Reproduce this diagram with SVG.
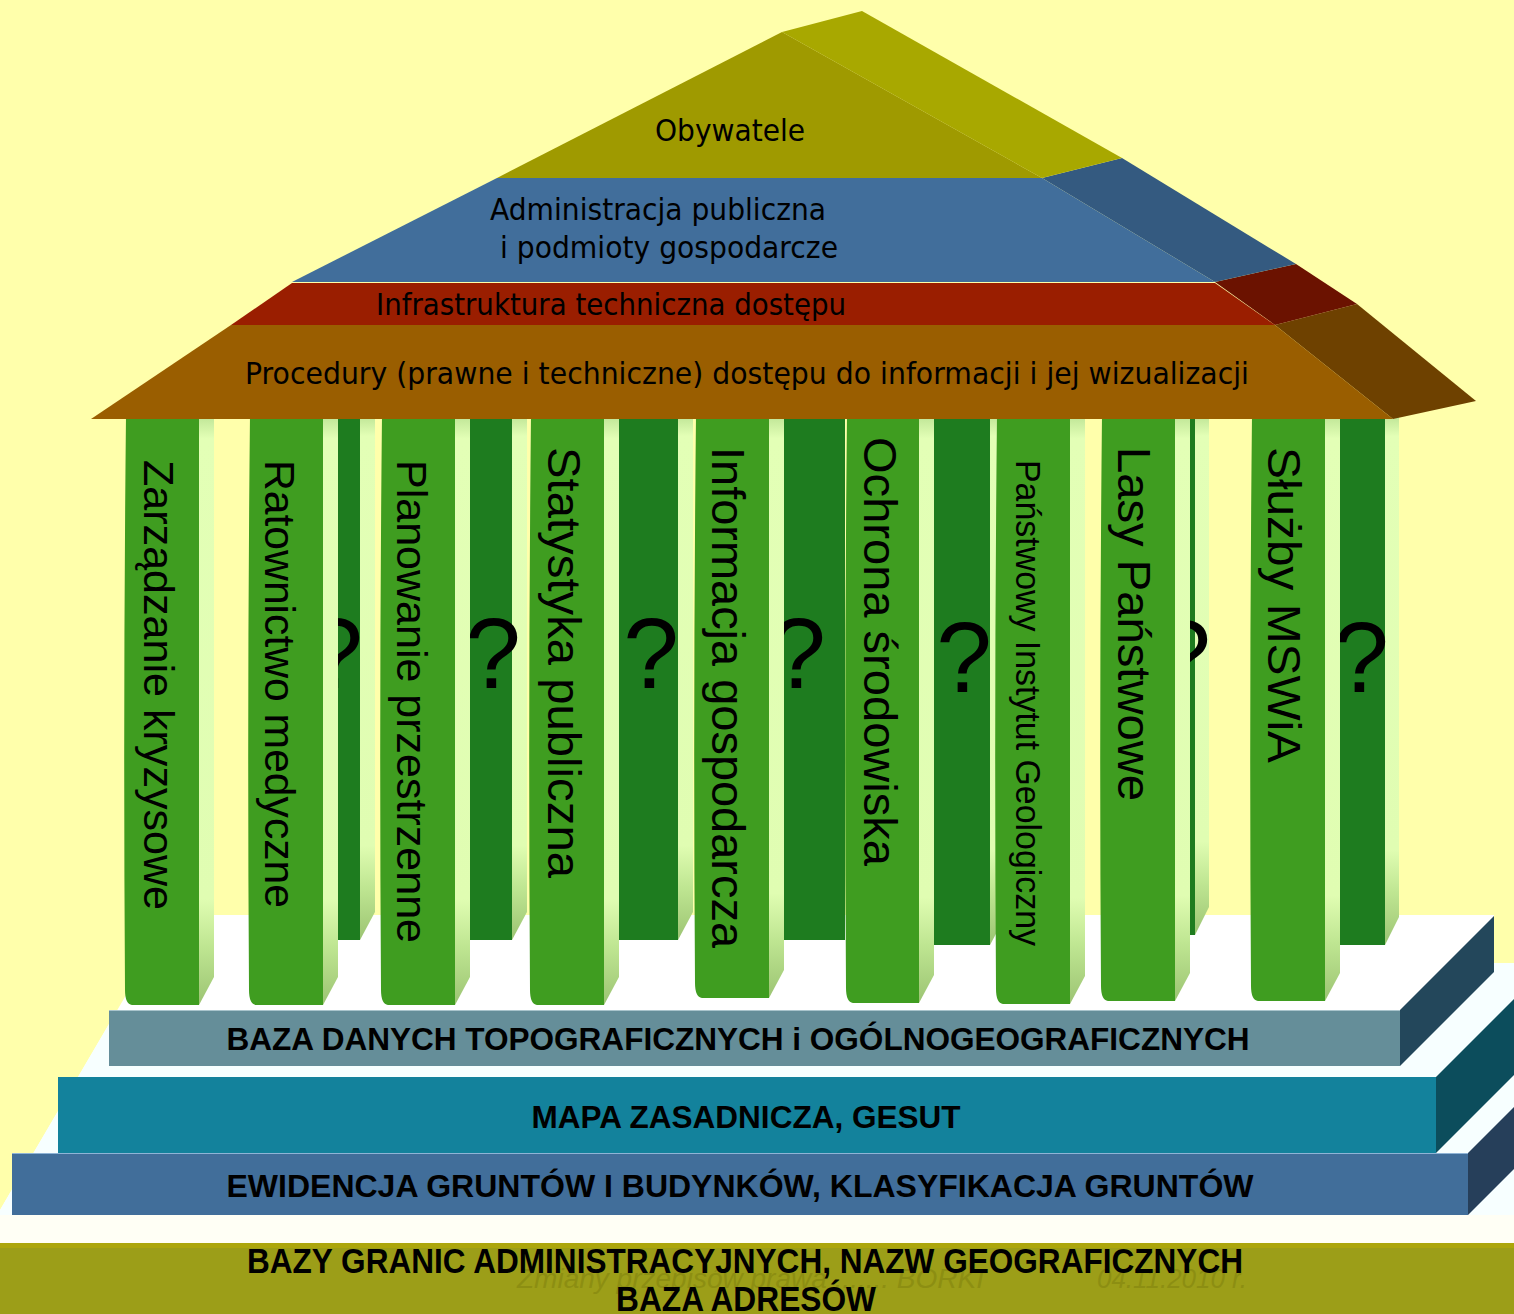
<svg xmlns="http://www.w3.org/2000/svg" width="1514" height="1314" viewBox="0 0 1514 1314">
<defs>
<linearGradient id="side" x1="0" y1="0" x2="0" y2="1">
<stop offset="0" stop-color="#BDE495"/>
<stop offset="0.04" stop-color="#E3FFB6"/>
<stop offset="0.82" stop-color="#E0FDB2"/>
<stop offset="0.9" stop-color="#BFE692"/>
<stop offset="1" stop-color="#9CC473"/>
</linearGradient>
<style>
.bg{fill:#FFFFAB}
.front{fill:#3F9D20}
.dark{fill:#1E7C1F}
.side{fill:url(#side)}
.ct{font-family:"Liberation Sans",Arial,sans-serif;fill:#000}
.q{font-family:"Liberation Sans",Arial,sans-serif;font-size:100px;fill:#000;text-anchor:middle}
.roof{font-family:"DejaVu Sans","Liberation Sans",sans-serif;font-size:30px;fill:#000}
.step{font-family:"Liberation Sans",Arial,sans-serif;font-weight:bold;font-size:31px;fill:#000}
.foot{font-family:"Liberation Sans",Arial,sans-serif;font-weight:bold;font-size:35px;fill:#000}
.faint{font-family:"Liberation Sans",Arial,sans-serif;font-style:italic;font-size:28px;fill:#8C8E12}
</style>
</defs>

<rect class="bg" x="0" y="0" width="1514" height="1314"/>
<polygon points="173,915 1494,915 1494,963 1514,963 1514,1243 0,1243 0,1210" fill="#FFFFFF"/>
<polygon points="1494,963 1514,963 1514,1243 0,1243 0,1210 109,1024 109,1066 1400,1066" fill="#F7FFFF"/>
<rect x="0" y="1215" width="1514" height="28" fill="#FFFFF5"/>

<g id="back-columns">
<g id="back-a">
<rect class="dark" x="290" y="415" width="70" height="525"/>
<polygon class="side" points="360,415 375,415 375,912 360,940"/>
<text class="q" x="335" y="688">?</text>
</g>
<g id="back-b">
<rect class="dark" x="430" y="415" width="82" height="525"/>
<polygon class="side" points="512,415 527,415 527,912 512,940"/>
<text class="q" x="493" y="688">?</text>
</g>
<g id="back-c">
<rect class="dark" x="590" y="415" width="88" height="525"/>
<polygon class="side" points="678,415 693,415 693,912 678,940"/>
<text class="q" x="651" y="688">?</text>
</g>
<g id="back-d">
<rect class="dark" x="750" y="415" width="95" height="525"/>
<text class="q" x="798" y="688">?</text>
</g>
<g id="back-e">
<rect class="dark" x="900" y="415" width="90" height="530"/>
<polygon class="side" points="990,415 1005,415 1005,917 990,945"/>
<text class="q" x="964" y="692">?</text>
</g>
<g id="back-f">
<rect class="dark" x="1150" y="415" width="45" height="520"/>
<polygon class="side" points="1195,415 1209,415 1209,907 1195,935"/>
<text class="q" x="1183" y="690">?</text>
</g>
<g id="back-g">
<rect class="dark" x="1300" y="415" width="85" height="530"/>
<polygon class="side" points="1385,415 1399,415 1399,917 1385,945"/>
<text class="q" x="1361" y="692">?</text>
</g>
</g>

<g id="front-columns">
<g id="col-1">
<path class="front" d="M126,415 L199,415 L199,1005 L132,1005 Q125,1004 125,990 Q123,700 126,415 Z"/>
<polygon class="side" points="199,415 214,415 214,977 199,1005"/>
<text class="ct" font-size="43" textLength="450" lengthAdjust="spacingAndGlyphs" transform="translate(144,460) rotate(90)">Zarządzanie kryzysowe</text>
</g>
<g id="col-2">
<path class="front" d="M250,415 L323,415 L323,1005 L256,1005 Q249,1004 249,990 Q247,700 250,415 Z"/>
<polygon class="side" points="323,415 338,415 338,977 323,1005"/>
<text class="ct" font-size="43" textLength="448" lengthAdjust="spacingAndGlyphs" transform="translate(265,460) rotate(90)">Ratownictwo medyczne</text>
</g>
<g id="col-3">
<path class="front" d="M382,415 L455,415 L455,1005 L388,1005 Q381,1004 381,990 Q379,700 382,415 Z"/>
<polygon class="side" points="455,415 470,415 470,977 455,1005"/>
<text class="ct" font-size="43" textLength="483" lengthAdjust="spacingAndGlyphs" transform="translate(397,460) rotate(90)">Planowanie przestrzenne</text>
</g>
<g id="col-4">
<path class="front" d="M531,415 L604,415 L604,1005 L537,1005 Q530,1004 530,990 Q528,700 531,415 Z"/>
<polygon class="side" points="604,415 619,415 619,977 604,1005"/>
<text class="ct" font-size="47" textLength="431" lengthAdjust="spacingAndGlyphs" transform="translate(548,447) rotate(90)">Statystyka publiczna</text>
</g>
<g id="col-5">
<path class="front" d="M696,415 L769,415 L769,998 L702,998 Q695,997 695,983 Q693,700 696,415 Z"/>
<polygon class="side" points="769,415 784,415 784,970 769,998"/>
<text class="ct" font-size="47" textLength="501" lengthAdjust="spacingAndGlyphs" transform="translate(712,447) rotate(90)">Informacja gospodarcza</text>
</g>
<g id="col-6">
<path class="front" d="M847,415 L919,415 L919,1003 L853,1003 Q846,1002 846,988 Q844,700 847,415 Z"/>
<polygon class="side" points="919,415 934,415 934,975 919,1003"/>
<text class="ct" font-size="47" textLength="429" lengthAdjust="spacingAndGlyphs" transform="translate(864,437) rotate(90)">Ochrona środowiska</text>
</g>
<g id="col-7">
<path class="front" d="M997,415 L1070,415 L1070,1004 L1003,1004 Q996,1003 996,989 Q994,700 997,415 Z"/>
<polygon class="side" points="1070,415 1085,415 1085,976 1070,1004"/>
<text class="ct" font-size="35" textLength="486" lengthAdjust="spacingAndGlyphs" transform="translate(1016,460) rotate(90)">Państwowy Instytut Geologiczny</text>
</g>
<g id="col-8">
<path class="front" d="M1102,415 L1175,415 L1175,1001 L1108,1001 Q1101,1000 1101,986 Q1099,700 1102,415 Z"/>
<polygon class="side" points="1175,415 1190,415 1190,973 1175,1001"/>
<text class="ct" font-size="47" textLength="354" lengthAdjust="spacingAndGlyphs" transform="translate(1118,447) rotate(90)">Lasy Państwowe</text>
</g>
<g id="col-9">
<path class="front" d="M1252,415 L1325,415 L1325,1001 L1258,1001 Q1251,1000 1251,986 Q1249,700 1252,415 Z"/>
<polygon class="side" points="1325,415 1340,415 1340,973 1325,1001"/>
<text class="ct" font-size="47" textLength="316" lengthAdjust="spacingAndGlyphs" transform="translate(1268,447) rotate(90)">Służby MSWiA</text>
</g>
</g>

<g id="step-1">
<polygon points="1400,1010 1494,916 1494,972 1400,1066" fill="#23475B"/>
<rect x="109" y="1010" width="1291" height="56" fill="#658E99"/>
<line x1="109" y1="1010.5" x2="1400" y2="1010.5" stroke="#A9C4CC" stroke-width="1"/>
<text class="step" x="738" y="1050" text-anchor="middle" textLength="1023" lengthAdjust="spacingAndGlyphs">BAZA DANYCH TOPOGRAFICZNYCH i OGÓLNOGEOGRAFICZNYCH</text>
</g>
<g id="step-2">
<polygon points="1436,1077 1514,999 1514,1075 1436,1153" fill="#0C4D5C"/>
<rect x="58" y="1077" width="1378" height="76" fill="#13829C"/>
<text class="step" x="746" y="1128" text-anchor="middle" textLength="429" lengthAdjust="spacingAndGlyphs">MAPA ZASADNICZA, GESUT</text>
</g>
<g id="step-3">
<polygon points="1468,1153 1514,1107 1514,1169 1468,1215" fill="#263F5A"/>
<rect x="12" y="1153" width="1456" height="62" fill="#416E9A"/>
<line x1="12" y1="1153.5" x2="1468" y2="1153.5" stroke="#8FB4D6" stroke-width="1"/>
<text class="step" x="740" y="1197" text-anchor="middle" textLength="1027" lengthAdjust="spacingAndGlyphs">EWIDENCJA GRUNTÓW I BUDYNKÓW, KLASYFIKACJA GRUNTÓW</text>
</g>

<g id="roof-procedury">
<polygon points="1275,325 1357,304 1476,401 1393,419" fill="#6E4100"/>
<polygon points="231,325 1275,325 1393,419 91,419" fill="#9A5E00"/>
<text class="roof" x="245" y="384" textLength="1004" lengthAdjust="spacingAndGlyphs">Procedury (prawne i techniczne) dostępu do informacji i jej wizualizacji</text>
</g>
<g id="roof-infrastruktura">
<polygon points="1215,282 1296,264 1357,304 1275,325" fill="#6B1200"/>
<polygon points="292,283 1215,283 1275,325 231,325" fill="#9A1E00"/>
<text class="roof" x="376" y="315" textLength="470" lengthAdjust="spacingAndGlyphs">Infrastruktura techniczna dostępu</text>
</g>
<g id="roof-administracja">
<polygon points="1042,178 1122,158 1296,264 1215,282" fill="#345A80"/>
<polygon points="497,178 1042,178 1215,282 292,282" fill="#416E9B"/>
<text class="roof" x="490" y="220" textLength="336" lengthAdjust="spacingAndGlyphs">Administracja publiczna</text>
<text class="roof" x="500" y="258" textLength="338" lengthAdjust="spacingAndGlyphs">i podmioty gospodarcze</text>
</g>
<g id="roof-obywatele">
<polygon points="782,32 862,11 1122,158 1042,178" fill="#A8A800"/>
<polygon points="782,32 1042,178 497,178" fill="#9F9A00"/>
<text class="roof" x="655" y="141" textLength="150" lengthAdjust="spacingAndGlyphs">Obywatele</text>
</g>

<g id="footer">
<rect x="0" y="1243" width="1514" height="71" fill="#9C9E18"/>
<rect x="0" y="1243" width="1514" height="5" fill="#ACA60B"/>
<text class="faint" x="517" y="1288" textLength="467" lengthAdjust="spacingAndGlyphs">Zmiany przepisów prawa ....... BORKI</text>
<text class="faint" x="1097" y="1288" textLength="150" lengthAdjust="spacingAndGlyphs">04.11.2010 r.</text>
<text class="foot" x="745" y="1273" text-anchor="middle" textLength="996" lengthAdjust="spacingAndGlyphs">BAZY GRANIC ADMINISTRACYJNYCH, NAZW GEOGRAFICZNYCH</text>
<text class="foot" x="746" y="1311" text-anchor="middle" textLength="260" lengthAdjust="spacingAndGlyphs">BAZA ADRESÓW</text>
</g>
</svg>
